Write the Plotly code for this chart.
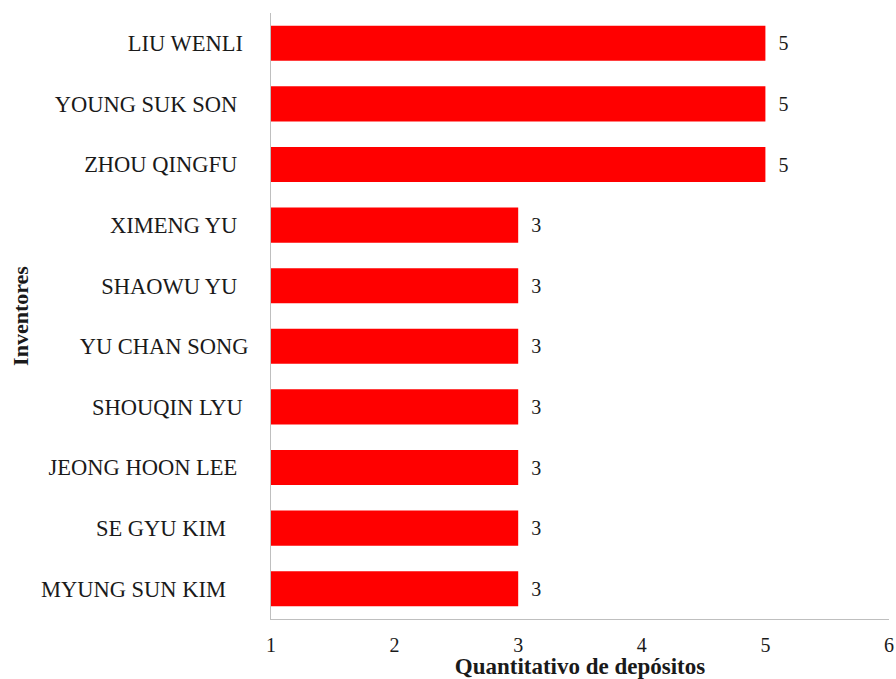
import plotly.graph_objects as go

# Inventors ordered top to bottom, with their number of filings
inventors = ["LIU WENLI", "YOUNG SUK SON", "ZHOU QINGFU", "XIMENG YU", "SHAOWU YU",
             "YU CHAN SONG", "SHOUQIN LYU", "JEONG HOON LEE", "SE GYU KIM", "MYUNG SUN KIM"]
depositos = [5, 5, 5, 3, 3, 3, 3, 3, 3, 3]
# trailing padding on each name label (non-breaking spaces)
padding = [1, 2, 2, 2, 2, 0, 1, 2, 4, 4]
x_ticks = [1, 2, 3, 4, 5, 6]

labels = [name + "\u00a0" * p for name, p in zip(inventors, padding)]

FONT = "Liberation Serif"
INK = "#1a1a1a"

fig = go.Figure(go.Bar(
    y=labels,
    x=depositos,
    base=0,
    orientation="h",
    marker=dict(color="#ff0000", line=dict(width=0)),
    text=["\u00a0\u00a0" + str(v) for v in depositos],
    textposition="outside",
    textfont=dict(family=FONT, size=20, color=INK),
    cliponaxis=False,
))

fig.update_layout(
    width=896, height=679,
    margin=dict(l=271, r=7, t=13, b=60, autoexpand=False),
    paper_bgcolor="white", plot_bgcolor="white",
    bargap=0.42,
    showlegend=False,
    font=dict(family=FONT, size=20, color=INK),
    xaxis=dict(
        range=[1, 6], tickvals=x_ticks, ticktext=[str(t) for t in x_ticks],
        showgrid=False, zeroline=False,
        showline=True, linecolor="#bfbfbf", linewidth=1,
        ticks="", ticklabelstandoff=8,
        tickfont=dict(family=FONT, size=20, color=INK),
        title=dict(text="<b>Quantitativo de depósitos</b>",
                   font=dict(family=FONT, size=23, color=INK), standoff=1),
    ),
    yaxis=dict(
        autorange="reversed",
        showgrid=False, zeroline=False,
        showline=True, linecolor="#bfbfbf", linewidth=1,
        ticks="", ticklabelstandoff=17,
        tickfont=dict(family=FONT, size=22.5, color=INK),
        title=dict(text="<b>Inventores</b>",
                   font=dict(family=FONT, size=22, color=INK), standoff=6),
    ),
)

fig.write_html("out.html")
